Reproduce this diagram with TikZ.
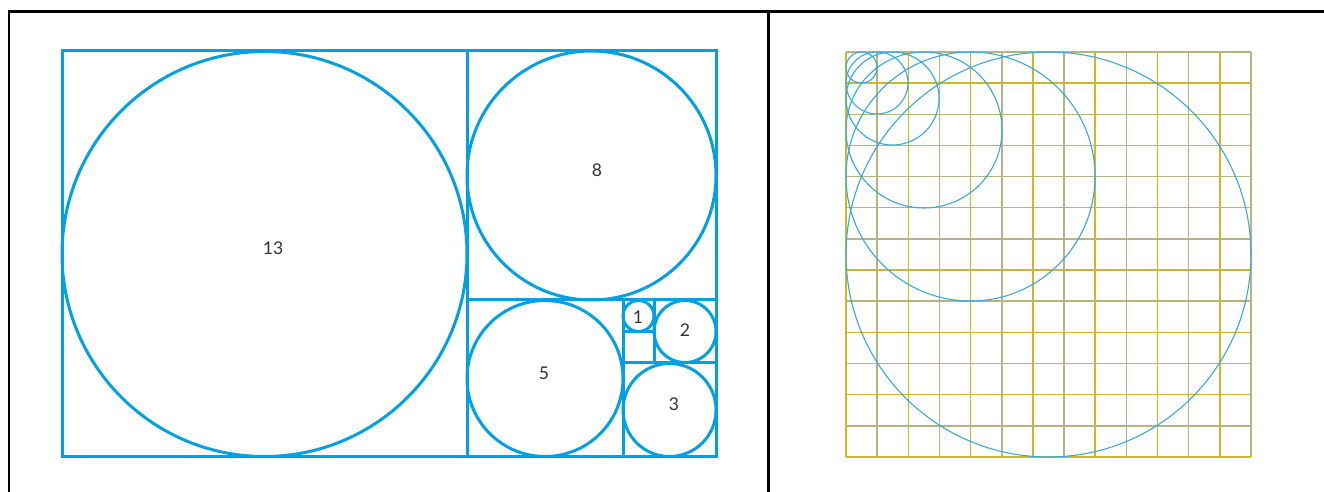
\documentclass[tikz,border=0pt]{standalone}
\usepackage{fontspec}
\setmainfont{Lato}
\definecolor{fibblue}{RGB}{0,160,227}
\definecolor{circblue}{RGB}{58,168,216}
\definecolor{gridA}{RGB}{205,185,40}
\definecolor{gridB}{RGB}{185,178,130}
\begin{document}
\begin{tikzpicture}[x=0.02cm,y=-0.02cm,
  frame/.style={line width=0.06cm,black},
  fib/.style={line width=0.06cm,fibblue},
  thin circ/.style={line width=0.022cm,circblue},
  gridyel/.style={line width=0.03cm,gridA},
  gridgray/.style={line width=0.03cm,gridB},
  num/.style={font=\fontsize{10}{12}\selectfont,text=black!80,inner sep=0pt}]
\useasboundingbox (0,0) rectangle (1324,492);
% frame
\draw[frame] (9,492) -- (9,12) -- (1324,12);
\draw[frame] (768,12) -- (768,492);
% left: Fibonacci rectangle
\draw[fib] (62,51) rectangle (716,457);
\draw[fib] (467,51) -- (467,457);
\draw[fib] (467,300) -- (716,300);
\draw[fib] (623,300) -- (623,457);
\draw[fib] (623,363) -- (716,363);
\draw[fib] (654,300) -- (654,363);
\draw[fib] (623,332) -- (654,332);
\draw[fib] (264.5,254) circle[radius=202.5];
\draw[fib] (591.5,175.5) circle[radius=124.5];
\draw[fib] (545,378.5) circle[radius=78];
\draw[fib] (669.5,410) circle[radius=46.5];
\draw[fib] (685,331.5) circle[radius=31];
\draw[fib] (638.5,316) circle[radius=15.5];
\node[num] (n13) at (273,248) {13};
\node[num] (n8) at (597,170) {8};
\node[num] (n5) at (544,373) {5};
\node[num] (n3) at (674,404) {3};
\node[num] (n2) at (685,330) {2};
\node[num] (n1) at (638,317) {1};
% right: grid
\foreach \i in {0,...,13}{
  \pgfmathsetmacro{\p}{846+31.15*\i}
  \pgfmathsetmacro{\q}{52+31.15*\i}
  \ifodd\i
    \draw[gridgray] (\p,52) -- (\p,457);
    \draw[gridyel] (846,\q) -- (1251,\q);
  \else
    \draw[gridyel] (\p,52) -- (\p,457);
    \draw[gridgray] (846,\q) -- (1251,\q);
  \fi
}
\draw[thin circ] (861.5,67.5) circle[radius=15.5];
\draw[thin circ] (877,83) circle[radius=31];
\draw[thin circ] (892.5,98.5) circle[radius=46.5];
\draw[thin circ] (924,130) circle[radius=78];
\draw[thin circ] (970.5,176.5) circle[radius=124.5];
\draw[thin circ] (1048.5,254.5) circle[radius=202.5];
\end{tikzpicture}
\end{document}
